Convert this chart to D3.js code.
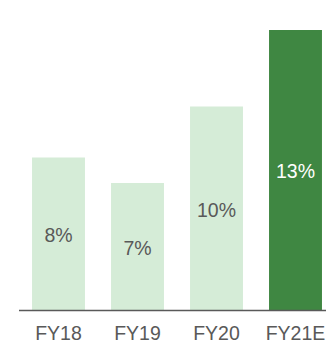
<!DOCTYPE html>
<html>
<head>
<meta charset="utf-8">
<script src="https://cdn.jsdelivr.net/npm/d3@7"></script>
<style>
  html, body { margin: 0; padding: 0; background: #fff; }
  svg { display: block; font-family: "Liberation Sans", Arial, sans-serif; }
</style>
</head>
<body>
<svg id="chart" width="326" height="344"></svg>
<script>
const categories = ["FY18", "FY19", "FY20", "FY21E"];
const values = [8, 7, 10, 13];
const highlight = [false, false, false, true];
const yDomain = [2, 13];

const svg = d3.select("#chart");
const baseY = 310.5;

const x = d3.scaleBand().domain(categories).range([19, 335])
  .paddingInner(0.33).paddingOuter(0.165);
const y = d3.scaleLinear().domain(yDomain).range([baseY, 30]);

const data = categories.map((c, i) => ({ c, v: values[i], h: highlight[i] }));

svg.selectAll("rect.bar").data(data).enter().append("rect")
  .attr("class", "bar")
  .attr("x", d => x(d.c))
  .attr("width", x.bandwidth())
  .attr("y", d => y(d.v))
  .attr("height", d => baseY - y(d.v))
  .attr("fill", d => d.h ? "#3f8742" : "#d5ecd7");

svg.selectAll("text.val").data(data).enter().append("text")
  .attr("class", "val")
  .attr("x", d => x(d.c) + x.bandwidth() / 2)
  .attr("y", d => (y(d.v) + baseY) / 2 + 8)
  .attr("text-anchor", "middle")
  .attr("font-size", "19.5px")
  .attr("fill", d => d.h ? "#ffffff" : "#595959")
  .text(d => d.v + "%");

svg.append("line")
  .attr("x1", 19).attr("x2", 326)
  .attr("y1", baseY).attr("y2", baseY)
  .attr("stroke", "#595959").attr("stroke-width", 1.5);

const xAxis = svg.append("g").attr("transform", `translate(0,${baseY})`)
  .call(d3.axisBottom(x).tickSize(0).tickPadding(0));
xAxis.select(".domain").remove();
xAxis.selectAll("text")
  .attr("y", 29).attr("dy", null)
  .attr("font-size", "19.5px")
  .attr("font-family", "Liberation Sans, Arial, sans-serif")
  .attr("fill", "#595959");
</script>
</body>
</html>
